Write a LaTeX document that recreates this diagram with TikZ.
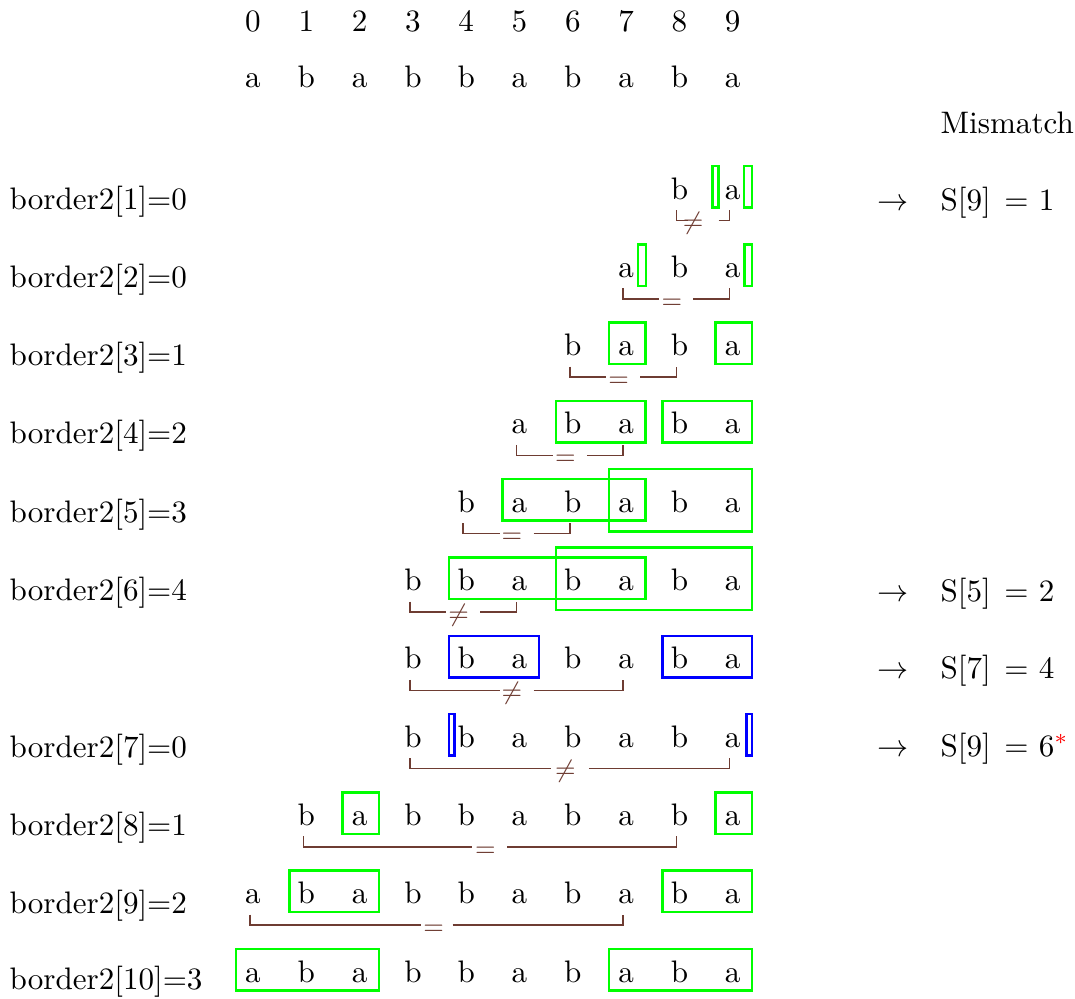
\documentclass[tikz,border=0pt]{standalone}
\usepackage{xcolor}
\definecolor{brk}{RGB}{110,60,50}
\newcommand\mybox[8]{\draw[#1] ({253+53.3*#3+(#7)},{199+78.3*(#2-1)+(#5)}) rectangle ({253+53.3*#4+(#8)},{199+78.3*(#2-1)+(#6)});}
\newcommand\mybrk[6]{%
 \pgfmathsetmacro\bL{253+53.3*#2-3}%
 \pgfmathsetmacro\bR{253+53.3*#3-3}%
 \pgfmathsetmacro\bM{(\bL+\bR)/2}%
 \pgfmathsetmacro\bY{199+78.3*(#1-1)}%
 \draw[brkline] ({\bL},{\bY+11}) -- ({\bL},{\bY+21.5}) -- ({\bM-(#5)},{\bY+21.5});
 \draw[brkline] ({\bM+(#5)},{\bY+21.5}) -- ({\bR},{\bY+21.5}) -- ({\bR},{\bY+11});
 \node[brklab] (q#1) at ({\bM+(#6)},{\bY+30.7}) {$#4$};
}
\begin{document}
\begin{tikzpicture}[x=0.3215pt,y=-0.3215pt,
  letter/.style={anchor=base,inner sep=0pt},
  lab/.style={anchor=base west,inner sep=0pt},
  gbox/.style={draw=green,line width=0.8pt},
  bbox/.style={draw=blue,line width=0.8pt},
  brkline/.style={draw=brk,line width=0.5pt},
  brklab/.style={anchor=base,inner sep=0pt,text=brk,font=\footnotesize}]
\useasboundingbox (0,0) rectangle (1075,998);
% header
\foreach \c in {0,...,9}{
  \pgfmathtruncatemacro\isb{(\c==1)||(\c==3)||(\c==4)||(\c==6)||(\c==8)}
  \ifnum\isb=1 \def\ch{b}\else\def\ch{a}\fi
  \node[letter] (d\c) at ({253+53.3*\c},32) {\c};
  \node[letter] (s\c) at ({253+53.3*\c},88) {\ch};
}
\node[lab] (mm) at (940,133) {Mismatch};
% pattern rows
\foreach \r/\s in {1/8,2/7,3/6,4/5,5/4,6/3,7/3,8/3,9/1,10/0,11/0}{
  \foreach \c in {\s,...,9}{
    \pgfmathtruncatemacro\isb{(\c==1)||(\c==3)||(\c==4)||(\c==6)||(\c==8)}
    \ifnum\isb=1 \def\ch{b}\else\def\ch{a}\fi
    \node[letter] (p\r c\c) at ({253+53.3*\c},{199+78.3*(\r-1)}) {\ch};
  }
}
% boxes
\mybox{gbox}{1}{9}{9}{-33}{8.5}{-20}{-14}
\mybox{gbox}{1}{9}{9}{-33}{8.5}{11.5}{19.5}
\mybox{gbox}{2}{7}{7}{-33}{8.5}{12}{20}
\mybox{gbox}{2}{9}{9}{-33}{8.5}{12}{19.5}
\mybox{gbox}{3}{7}{7}{-33}{8.5}{-17}{19.5}
\mybox{gbox}{3}{9}{9}{-33}{8.5}{-17}{19.5}
\mybox{gbox}{4}{6}{7}{-33}{8.5}{-17}{19.5}
\mybox{gbox}{4}{8}{9}{-33}{8.5}{-17}{19.5}
\mybox{gbox}{5}{5}{7}{-33}{8.5}{-17}{19.5}
\mybox{gbox}{5}{7}{9}{-43}{19.5}{-17}{19.5}
\mybox{gbox}{6}{4}{7}{-33}{8.5}{-17}{19.5}
\mybox{gbox}{6}{6}{9}{-43}{19.5}{-17}{19.5}
\mybox{bbox}{7}{4}{5}{-33}{8.5}{-17}{19.5}
\mybox{bbox}{7}{8}{9}{-33}{8.5}{-17}{19.5}
\mybox{bbox}{8}{4}{4}{-33}{8.5}{-17}{-11.5}
\mybox{bbox}{8}{9}{9}{-33}{8.5}{14}{19.5}
\mybox{gbox}{9}{2}{2}{-33}{8.5}{-17}{19.5}
\mybox{gbox}{9}{9}{9}{-33}{8.5}{-17}{19.5}
\mybox{gbox}{10}{1}{2}{-33}{8.5}{-17}{19.5}
\mybox{gbox}{10}{8}{9}{-33}{8.5}{-17}{19.5}
\mybox{gbox}{11}{0}{2}{-33}{8.5}{-17}{19.5}
\mybox{gbox}{11}{7}{9}{-33}{8.5}{-17}{19.5}
% brackets
\mybrk{1}{8}{9}{\neq}{15.5}{-10}
\mybrk{2}{7}{9}{=}{17}{-4.5}
\mybrk{3}{6}{8}{=}{17}{-4.5}
\mybrk{4}{5}{7}{=}{17}{-4.5}
\mybrk{5}{4}{6}{=}{17}{-4.5}
\mybrk{6}{3}{5}{\neq}{17}{-4.5}
\mybrk{7}{3}{7}{\neq}{17}{-4.5}
\mybrk{8}{3}{9}{\neq}{19}{-4.5}
\mybrk{9}{1}{8}{=}{17.5}{-4.5}
\mybrk{10}{0}{7}{=}{16}{-3}
% left labels
\node[lab] (L1) at (9,209) {border2[1]=0};
\node[lab] (L2) at (9,287.3) {border2[2]=0};
\node[lab] (L3) at (9,365.6) {border2[3]=1};
\node[lab] (L4) at (9,443.9) {border2[4]=2};
\node[lab] (L5) at (9,522.2) {border2[5]=3};
\node[lab] (L6) at (9,600.5) {border2[6]=4};
\node[lab] (L7) at (9,757.1) {border2[7]=0};
\node[lab] (L8) at (9,835.4) {border2[8]=1};
\node[lab] (L9) at (9,913.7) {border2[9]=2};
\node[lab] (L10) at (9,989) {border2[10]=3};
% right side
\node[lab] (a1) at (876.5,210) {$\rightarrow$};
\node[lab] (t1) at (940,210) {S[9]\kern1pt{} $=$ 1};
\node[lab] (a6) at (876.5,601) {$\rightarrow$};
\node[lab] (t6) at (940,601) {S[5]\kern1pt{} $=$ 2};
\node[lab] (a7) at (876.5,678) {$\rightarrow$};
\node[lab] (t7) at (940,678) {S[7]\kern1pt{} $=$ 4};
\node[lab] (a8) at (876.5,756) {$\rightarrow$};
\node[lab] (t8) at (940,756) {S[9]\kern1pt{} $=$ 6$^{\textcolor{red}{*}}$};
\end{tikzpicture}
\end{document}
